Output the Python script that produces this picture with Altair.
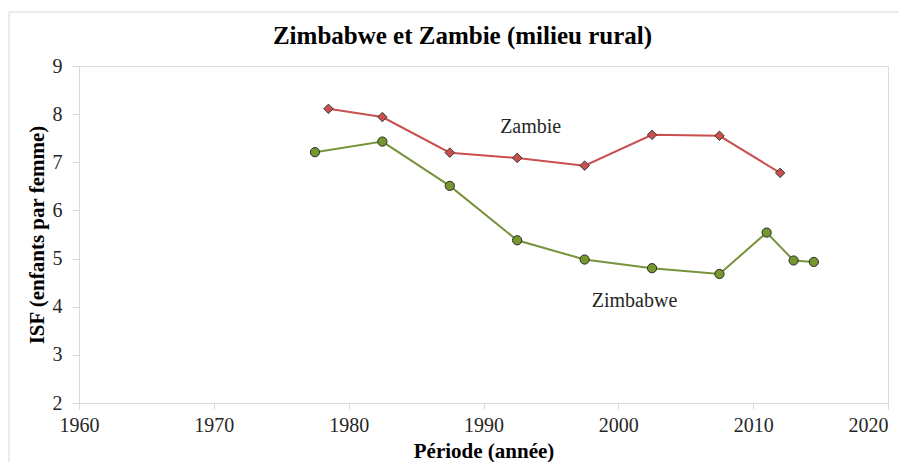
import altair as alt
import pandas as pd

# --- data ---
zambie_years = [1978.5, 1982.5, 1987.5, 1992.5, 1997.5, 2002.5, 2007.5, 2012.0]
zambie_isf = [8.11, 7.94, 7.20, 7.09, 6.93, 7.57, 7.55, 6.78]
zimbabwe_years = [1977.5, 1982.5, 1987.5, 1992.5, 1997.5, 2002.5, 2007.5, 2011.0, 2013.0, 2014.5]
zimbabwe_isf = [7.21, 7.43, 6.51, 5.38, 4.98, 4.80, 4.68, 5.54, 4.96, 4.93]

label_names = ["Zambie", "Zimbabwe"]
label_years = [1993.5, 2001.2]
label_values = [7.74, 4.11]

x_ticks = [1960, 1970, 1980, 1990, 2000, 2010, 2020]
y_ticks = [2, 3, 4, 5, 6, 7, 8, 9]

FONT = "Liberation Serif"
AXIS_GREY = "#d9d9d9"

zam = pd.DataFrame({"annee": zambie_years, "isf": zambie_isf})
zim = pd.DataFrame({"annee": zimbabwe_years, "isf": zimbabwe_isf})
labels = pd.DataFrame({"nom": label_names, "annee": label_years, "isf": label_values})

x_enc = alt.X(
    "annee:Q",
    scale=alt.Scale(domain=[1960, 2020], nice=False, zero=False),
    axis=alt.Axis(
        values=x_ticks, format="d", title="Période (année)", grid=False,
        domainColor=AXIS_GREY, tickColor=AXIS_GREY, tickSize=6,
        labelFont=FONT, labelFontSize=20, labelColor="#262626", labelPadding=6,
        labelFlush=False,
        labelAlign={"expr": "datum.value == 2020 ? 'right' : 'center'"},
        titleFont=FONT, titleFontSize=21, titleFontWeight="bold", titleColor="#000000",
        titlePadding=5,
    ),
)
y_enc = alt.Y(
    "isf:Q",
    scale=alt.Scale(domain=[2, 9], nice=False, zero=False),
    axis=alt.Axis(
        values=y_ticks, format="d", title="ISF (enfants par femme)", grid=False,
        domainColor=AXIS_GREY, tickColor=AXIS_GREY, tickSize=7,
        labelFont=FONT, labelFontSize=20, labelColor="#262626", labelPadding=10,
        titleFont=FONT, titleFontSize=21, titleFontWeight="bold", titleColor="#000000",
        titlePadding=5,
    ),
)

zam_line = alt.Chart(zam).mark_line(color="#C9504F", strokeWidth=2).encode(x=x_enc, y=y_enc)
zam_pts = alt.Chart(zam).mark_point(
    shape="diamond", size=90, filled=True, fill="#C9504F", stroke="#3a3a3a", strokeWidth=1, opacity=1
).encode(x="annee:Q", y="isf:Q")

zim_line = alt.Chart(zim).mark_line(color="#77933C", strokeWidth=2).encode(x="annee:Q", y="isf:Q")
zim_pts = alt.Chart(zim).mark_point(
    shape="circle", size=85, filled=True, fill="#74982E", stroke="#2a2a2a", strokeWidth=1, opacity=1
).encode(x="annee:Q", y="isf:Q")

txt = alt.Chart(labels).mark_text(
    font=FONT, fontSize=20, color="#262626", align="center", baseline="middle"
).encode(x="annee:Q", y="isf:Q", text="nom:N")

frame = alt.Chart(alt.Data(values=[{"a": 1}])).mark_rect(
    fill=None, stroke=AXIS_GREY, strokeWidth=1, clip=False
).encode(
    x=alt.value(-70), x2=alt.value(860), y=alt.value(-54), y2=alt.value(420)
)

chart = alt.layer(frame, zim_line, zam_line, zim_pts, zam_pts, txt).properties(
    width=809,
    height=337,
    autosize=alt.AutoSizeParams(type="none"),
    padding={"left": 71, "top": 58, "right": 11, "bottom": 59},
    title=alt.TitleParams(
        "Zimbabwe et Zambie (milieu rural)",
        font=FONT, fontSize=25, fontWeight="bold", color="#000000",
        anchor="middle", dx=-21, offset=14, dy=51,
    ),
).configure_view(stroke=None).configure(background="white")

chart.save("out.html", embed_options={"renderer": "svg", "actions": False})
